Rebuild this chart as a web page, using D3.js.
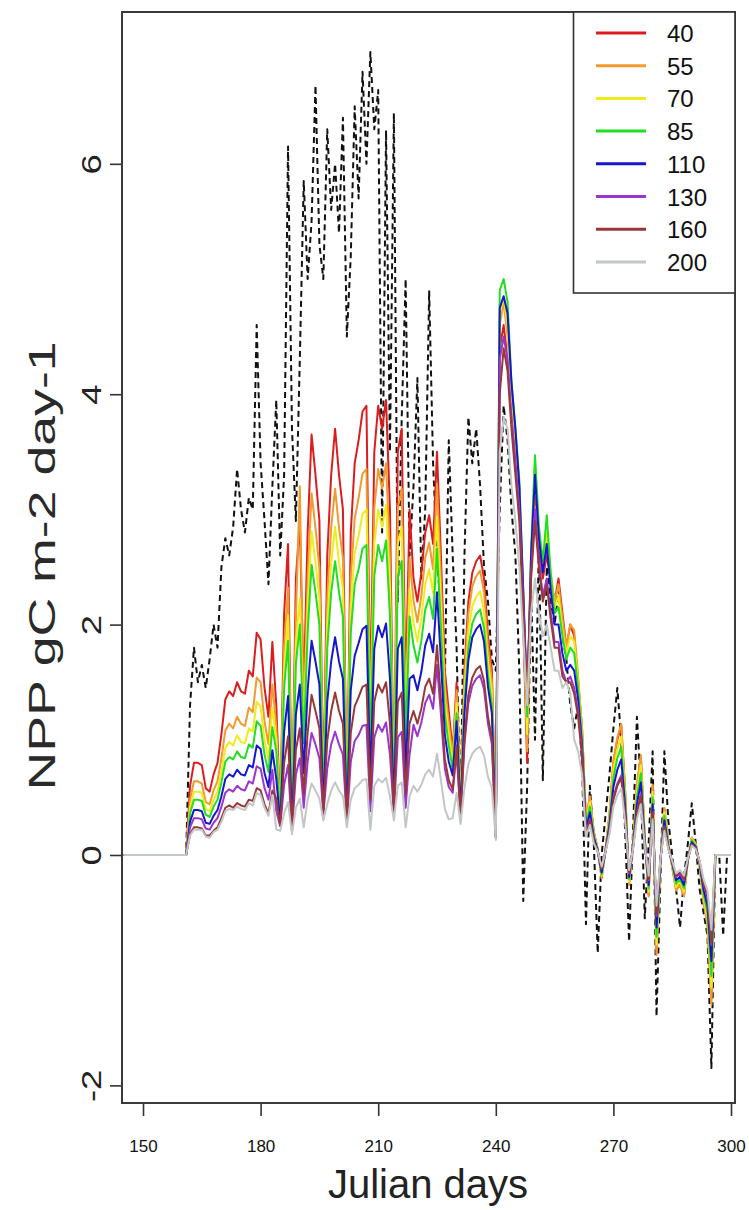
<!DOCTYPE html>
<html><head><meta charset="utf-8">
<script src="https://cdn.jsdelivr.net/npm/d3@7/dist/d3.min.js"></script>
<style>body{margin:0;background:#fff;}svg{display:block;font-family:"Liberation Sans",Arial,Helvetica,sans-serif;}</style>
</head><body><svg id="c" width="749" height="1210"></svg>
<script>
// Julian days 145..300
const days = d3.range(145, 301);
const Z = [0,0,0,0,0,0,0,0,0,0,0,0,0,0,0,0,0]; // days 145..161

const s40 = Z.concat([.60,.80,.80,.78,.58,.55,.70,.80,1.05,1.35,1.42,1.38,1.50,1.42,1.40,1.60,1.55,1.93,1.87,1.45,1.20,1.85,
1.30,.35,2.10,2.70,.30,2.40,2.90,1.40,2.80,3.65,3.30,2.90,.50,2.60,3.30,3.70,3.30,3.00,.40,2.80,3.40,3.60,3.85,3.90,1.30,3.50,3.90,3.70,3.95,3.00,.50,3.50,3.70,1.40,3.00,
2.40,2.20,2.45,2.80,2.95,2.70,3.50,2.60,1.60,1.25,.90,1.50,.45,1.60,2.20,2.45,2.55,2.60,2.40,1.90,1.60,.20,
4.40,4.60,4.30,3.80,3.50,3.10,2.00,.80,2.50,3.20,2.70,2.40,2.60,2.40,2.20,2.40,2.10,1.80,2.00,1.90,1.50,1.10,
.30,.50,.20,.05,-.20,.05,.35,.80,1.00,1.12,.55,-.25,.10,.60,.85,.15,-.35,.60,-.85,-.05,.40,.10,-.10,-.30,-.25,-.35,-.05,.15,.10,-.10,-.40,-.60,-1.25,0,0,0,0,0]);

const s55 = Z.concat([.48,.64,.64,.62,.46,.44,.56,.64,.84,1.08,1.14,1.10,1.20,1.14,1.12,1.28,1.24,1.54,1.50,1.16,.96,1.48,
1.12,.33,1.81,2.32,.29,2.06,3.20,1.20,2.41,3.14,2.84,2.49,.48,2.24,2.84,3.18,2.84,2.58,.38,2.41,2.92,3.10,3.31,3.35,1.12,3.01,3.35,3.18,3.40,2.58,.48,3.01,3.18,1.20,2.58,
2.21,2.02,2.25,2.58,2.71,2.48,3.22,2.39,1.47,1.15,.86,1.43,.43,1.52,2.09,2.33,2.42,2.47,2.28,1.81,1.52,.19,
4.60,4.80,4.50,3.90,3.60,3.15,2.10,.90,2.55,3.30,2.75,2.45,2.70,2.45,2.20,2.35,2.05,1.80,2.00,1.95,1.55,1.10,
.31,.51,.20,.05,-.20,.05,.36,.82,1.02,1.14,.56,-.26,.10,.61,.87,.15,-.36,.61,-.87,-.05,.41,.10,-.10,-.31,-.26,-.36,-.05,.15,.10,-.10,-.41,-.61,-1.30,0,0,0,0,0]);

const s70 = Z.concat([.41,.55,.55,.54,.40,.38,.48,.55,.72,.93,.98,.95,1.04,.98,.97,1.10,1.07,1.33,1.29,1.00,.83,1.28,
1.00,.32,1.62,2.08,.27,1.85,2.23,1.08,2.16,2.81,2.54,2.23,.45,2.00,2.54,2.85,2.54,2.31,.36,2.16,2.62,2.77,2.96,3.00,1.00,2.70,3.00,2.85,3.04,2.31,.45,2.70,2.85,1.08,2.31,
2.02,1.85,2.06,2.35,2.48,2.27,2.94,2.18,1.34,1.05,.79,1.32,.41,1.41,1.94,2.16,2.24,2.29,2.11,1.67,1.41,.18,
4.70,4.85,4.60,4.00,3.65,3.20,2.20,1.05,2.60,3.40,2.80,2.50,2.80,2.45,2.15,2.25,1.95,1.75,1.90,1.85,1.50,1.05,
.28,.46,.18,.05,-.18,.05,.32,.74,.92,1.03,.51,-.23,.09,.55,.78,.14,-.32,.55,-.78,-.05,.37,.09,-.09,-.28,-.23,-.32,-.05,.14,.09,-.09,-.37,-.55,-1.15,0,0,0,0,0]);

const s85 = Z.concat([.36,.48,.48,.47,.35,.33,.42,.48,.63,.81,.85,.83,.90,.85,.84,.96,.93,1.16,1.12,.87,.72,1.11,
.90,.30,1.45,1.86,.26,1.66,2.00,.97,1.93,2.52,2.28,2.00,.43,1.79,2.28,2.55,2.28,2.07,.34,1.93,2.35,2.48,2.66,2.69,.90,2.42,2.69,2.55,2.73,2.07,.43,2.42,2.55,.97,2.07,
1.82,1.67,1.86,2.13,2.24,2.05,2.66,1.98,1.22,.95,.74,1.23,.39,1.31,1.80,2.01,2.09,2.13,1.97,1.56,1.31,.17,
4.90,5.00,4.80,4.10,3.70,3.25,2.30,1.20,2.65,3.47,2.85,2.55,2.95,2.45,2.10,2.15,1.90,1.70,1.80,1.75,1.45,1.00,
.25,.42,.17,.04,-.17,.04,.29,.67,.84,.94,.46,-.21,.08,.50,.71,.13,-.29,.50,-.71,-.04,.34,.08,-.08,-.25,-.21,-.29,-.04,.13,.08,-.08,-.34,-.50,-1.05,0,0,0,0,0]);

const s110 = Z.concat([.29,.39,.39,.38,.28,.27,.34,.39,.51,.66,.70,.68,.74,.70,.69,.78,.76,.95,.92,.71,.59,.91,
.66,.28,1.07,1.38,.24,1.22,1.48,.71,1.43,1.86,1.68,1.48,.40,1.33,1.68,1.89,1.68,1.53,.32,1.43,1.73,1.84,1.96,1.99,.66,1.79,1.99,1.89,2.01,1.53,.40,1.79,1.89,.71,1.53,
1.56,1.43,1.59,1.82,1.92,1.76,2.28,1.69,1.04,.81,.69,1.16,.36,1.23,1.69,1.89,1.96,2.00,1.85,1.46,1.23,.16,
4.75,4.85,4.70,4.10,3.70,3.20,2.30,1.30,2.60,3.30,2.75,2.45,2.70,2.30,2.00,2.00,1.75,1.60,1.65,1.60,1.35,.95,
.22,.37,.15,.04,-.15,.04,.26,.59,.74,.83,.41,-.19,.07,.44,.63,.11,-.26,.44,-.63,-.04,.30,.07,-.07,-.22,-.19,-.26,-.04,.11,.07,-.07,-.30,-.44,-.92,0,0,0,0,0]);

const s130 = Z.concat([.24,.32,.32,.31,.23,.22,.28,.32,.42,.54,.57,.55,.60,.57,.56,.64,.62,.77,.75,.58,.48,.74,
.38,.25,.61,.78,.21,.70,.84,.41,.81,1.06,.96,.84,.35,.75,.96,1.07,.96,.87,.28,.81,.99,1.04,1.12,1.13,.38,1.02,1.13,1.07,1.15,.87,.35,1.02,1.07,.41,.87,
1.13,1.03,1.15,1.32,1.39,1.27,1.65,1.22,.75,.59,.54,.90,.32,.96,1.32,1.47,1.53,1.56,1.44,1.14,.96,.15,
4.30,4.50,4.30,3.80,3.40,3.00,2.20,1.40,2.45,3.00,2.55,2.25,2.40,2.10,1.85,1.85,1.60,1.50,1.55,1.45,1.25,.90,
.19,.31,.12,.03,-.12,.03,.22,.50,.62,.69,.34,-.16,.06,.37,.53,.09,-.22,.37,-.53,-.03,.25,.06,-.06,-.19,-.16,-.22,-.03,.09,.06,-.06,-.25,-.37,-.78,0,0,0,0,0]);

const s160 = Z.concat([.18,.24,.24,.23,.17,.17,.21,.24,.32,.41,.43,.41,.45,.43,.42,.48,.47,.58,.56,.44,.36,.56,
.49,.26,.80,1.03,.23,.91,1.10,.53,1.06,1.39,1.25,1.10,.38,.99,1.25,1.41,1.25,1.14,.30,1.06,1.29,1.37,1.46,1.48,.49,1.33,1.48,1.41,1.50,1.14,.38,1.33,1.41,.53,1.14,
1.25,1.14,1.27,1.46,1.53,1.40,1.82,1.35,.83,.65,.57,.95,.34,1.01,1.39,1.54,1.61,1.64,1.51,1.20,1.01,.15,
4.00,4.40,4.20,3.70,3.30,2.90,2.10,1.40,2.40,2.90,2.50,2.20,2.35,2.05,1.80,1.80,1.55,1.50,1.50,1.40,1.20,.85,
.18,.30,.12,.03,-.12,.03,.21,.48,.60,.67,.33,-.15,.06,.36,.51,.09,-.21,.36,-.51,-.03,.24,.06,-.06,-.18,-.15,-.21,-.03,.09,.06,-.06,-.24,-.36,-.75,0,0,0,0,0]);

const s200 = Z.concat([.17,.22,.22,.22,.16,.15,.20,.22,.29,.38,.40,.39,.42,.40,.39,.45,.43,.54,.52,.41,.34,.52,
.22,.21,.36,.46,.18,.41,.49,.24,.48,.62,.56,.49,.30,.44,.56,.63,.56,.51,.24,.48,.58,.61,.65,.66,.22,.60,.66,.63,.67,.51,.30,.60,.63,.24,.51,
.60,.55,.61,.70,.74,.68,.88,.65,.40,.31,.32,.54,.27,.58,.79,.88,.92,.94,.86,.68,.58,.13,
3.50,3.80,3.70,3.20,2.90,2.50,1.90,1.30,2.10,2.40,2.10,1.90,2.00,1.80,1.60,1.60,1.45,1.50,1.40,1.00,.90,.70,
.16,.26,.10,.03,-.10,.03,.18,.42,.52,.58,.29,-.13,.05,.31,.44,.08,-.18,.31,-.44,-.03,.21,.05,-.05,-.16,-.13,-.18,-.03,.08,.05,-.05,-.21,-.31,-.65,0,0,0,0,0]);

// black dashed reference series
const sRef = Z.concat([1.30,1.80,1.50,1.65,1.45,1.70,2.00,1.80,2.50,2.75,2.60,2.85,3.35,3.00,2.80,3.10,3.00,4.60,3.40,2.90,2.35,3.20,
3.95,2.60,3.30,6.15,3.70,2.90,4.30,5.85,5.00,5.50,6.68,5.30,5.00,6.30,5.60,6.00,5.40,6.40,4.50,5.20,6.50,5.70,6.80,6.00,6.97,6.30,6.64,2.80,6.29,3.50,6.44,2.20,3.80,5.00,2.60,
3.20,4.14,2.40,3.00,4.90,3.40,2.60,2.10,1.50,3.60,2.60,1.80,.30,2.60,3.80,3.40,3.70,3.20,2.50,2.20,1.70,1.60,
3.00,3.90,3.60,3.00,2.60,1.60,-.40,.60,2.30,1.00,2.70,.65,2.50,2.20,2.00,2.30,1.90,1.70,1.30,1.10,1.30,.80,
-.60,.60,.10,-.85,.00,.35,.70,1.10,1.45,1.00,.20,-.75,.20,1.20,.60,-.55,.10,.90,-1.40,-.20,.90,.30,.00,-.30,-.63,-.20,.10,.45,.10,-.30,-.50,-.70,-1.85,0,0,-.70,0,0]);

const seriesNames = ["40","55","70","85","110","130","160","200"];
const seriesData = [s40,s55,s70,s85,s110,s130,s160,s200];
const colors = ["#DD1D1D","#F39A2E","#F0EC1C","#22DD22","#1616D0","#9B35CF","#9A3838","#C2C6C6"];
const yTicks = [-2,0,2,4,6];
const xTicks = [150,180,210,240,270,300];

const svg = d3.select("#c");
const x = d3.scaleLinear().domain([144.64, 301.02]).range([122, 735]);
const y = d3.scaleLinear().domain([-2.153, 7.318]).range([1103, 12]);

const line = d3.line().x((d,i)=>x(days[i])).y(d=>y(d));

// reference (black dashed) underneath
svg.append("path").datum(sRef).attr("d", line)
  .attr("fill","none").attr("stroke","#111").attr("stroke-width",2)
  .attr("stroke-dasharray","6,4").attr("stroke-linejoin","round");

seriesData.forEach((s,k)=>{
  svg.append("path").datum(s).attr("d", line)
    .attr("fill","none").attr("stroke",colors[k]).attr("stroke-width",2)
    .attr("stroke-linejoin","round");
});

// axes
const gy = svg.append("g").attr("transform","translate(122,0)")
  .call(d3.axisLeft(y).tickValues(yTicks).tickSize(12).tickFormat(d=>String(d)));
gy.select(".domain").remove();
gy.selectAll(".tick line").attr("stroke","#333").attr("stroke-width",1.6);
gy.selectAll(".tick text").attr("x",null).attr("dy",null).attr("y",null)
  .attr("text-anchor","middle").attr("font-size",28).attr("fill","#222")
  .attr("transform","translate(-21,0) rotate(-90) scale(1.3,1)")
  .style("font-family","Liberation Sans, Arial, sans-serif");

const gx = svg.append("g").attr("transform","translate(0,1103)")
  .call(d3.axisBottom(x).tickValues(xTicks).tickSize(13).tickFormat(d=>String(d)));
gx.select(".domain").remove();
gx.selectAll(".tick line").attr("stroke","#333").attr("stroke-width",1.6);
gx.selectAll(".tick text").attr("y",49).attr("dy",null)
  .attr("font-size",17).attr("fill","#111")
  .style("font-family","Liberation Sans, Arial, sans-serif");

// frame
svg.append("rect").attr("x",122).attr("y",12).attr("width",613).attr("height",1091)
  .attr("fill","none").attr("stroke","#3a3a3a").attr("stroke-width",2);

// axis titles
svg.append("text").attr("transform","translate(428,1198)")
  .attr("text-anchor","middle").attr("font-size",40).attr("fill","#222").text("Julian days");
svg.append("text").attr("transform","translate(55,566) rotate(-90) scale(1.45,1)")
  .attr("text-anchor","middle").attr("font-size",37).attr("fill","#2a2a2a").text("NPP gC m-2 day-1");

// legend
const lg = svg.append("g");
lg.append("rect").attr("x",573.5).attr("y",12).attr("width",161.5).attr("height",281)
  .attr("fill","#fff").attr("stroke","#333").attr("stroke-width",1.6);
seriesNames.forEach((n,i)=>{
  const yy = 33 + i*32.7;
  lg.append("line").attr("x1",596).attr("x2",646).attr("y1",yy).attr("y2",yy)
    .attr("stroke",colors[i]).attr("stroke-width",3);
  lg.append("text").attr("x",667).attr("y",yy+9).attr("font-size",24).attr("fill","#111").text(n);
});
</script></body></html>
